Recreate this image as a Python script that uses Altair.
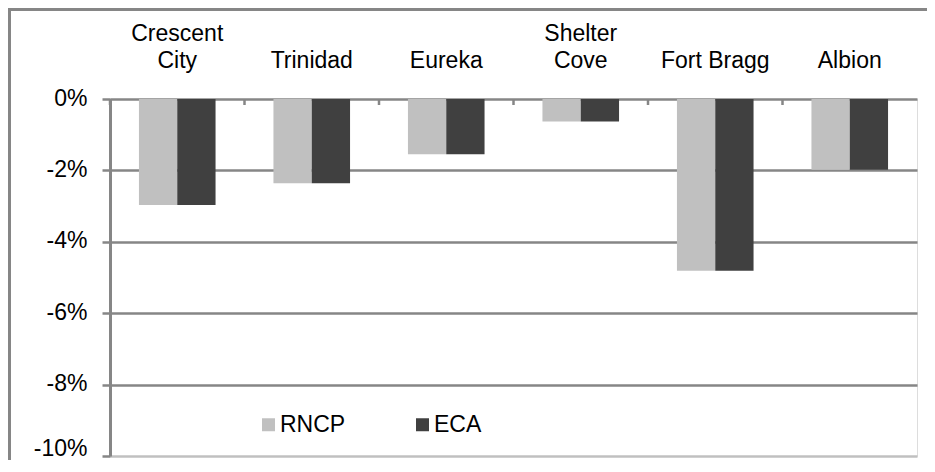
import altair as alt
import pandas as pd

categories = ["Crescent City", "Trinidad", "Eureka", "Shelter Cove", "Fort Bragg", "Albion"]
series = ["RNCP", "ECA"]
rncp = [-2.97, -2.36, -1.55, -0.63, -4.81, -1.98]
eca = [-2.97, -2.36, -1.55, -0.63, -4.81, -1.98]
y_ticks = [0, -2, -4, -6, -8, -10]
colors = ["#C0C0C0", "#404040"]

rows = []
for c, a, b in zip(categories, rncp, eca):
    rows.append({"site": c, "series": "RNCP", "value": a})
    rows.append({"site": c, "series": "ECA", "value": b})
df = pd.DataFrame(rows)

W, H = 807, 357
FONT = "Liberation Sans"
GRID = "#868686"
FS = 23

label_expr = ("datum.label == 'Crescent City' ? ['Crescent', 'City'] : "
              "datum.label == 'Shelter Cove' ? ['Shelter', 'Cove'] : ['', datum.label]")

xenc = alt.X(
    "site:N", sort=categories,
    scale=alt.Scale(paddingInner=0, paddingOuter=0),
    axis=alt.Axis(orient="top", title=None, domain=False, ticks=False, tickSize=0,
                  grid=False, labelAngle=0, labelFontSize=FS, labelFont=FONT,
                  labelColor="black", labelPadding=54, labelLineHeight=27,
                  labelLimit=300, labelExpr=label_expr),
)

bars = alt.Chart(df).mark_bar().encode(
    x=xenc,
    xOffset=alt.XOffset("series:N", sort=series,
                        scale=alt.Scale(paddingInner=0, paddingOuter=0.756)),
    y=alt.Y("value:Q", scale=alt.Scale(domain=[-10, 0], nice=False, zero=True),
            axis=alt.Axis(values=y_ticks, title=None, labelExpr="datum.value + '%'",
                          grid=True,
                          gridColor=alt.condition("datum.value == -10",
                                                  alt.value("#C0C0C0"), alt.value(GRID)),
                          gridWidth=2.5, tickColor=GRID, tickWidth=2.5, tickSize=8,
                          domainColor=GRID, domainWidth=3, labelFontSize=FS,
                          labelFont=FONT, labelColor="black", labelPadding=15,
                          labelOffset=alt.condition("datum.value == -10",
                                                    alt.value(-8), alt.value(-1)))),
    color=alt.Color("series:N", sort=series,
                    scale=alt.Scale(domain=series, range=colors),
                    legend=alt.Legend(orient="none", legendX=147, legendY=314,
                                      direction="horizontal", title=None,
                                      symbolType="square", symbolSize=169,
                                      symbolStrokeWidth=0, labelFontSize=FS,
                                      labelFont=FONT, labelColor="black",
                                      columnPadding=65, labelOffset=0)),
)

tick_df = pd.DataFrame({"site": categories})
ticks = alt.Chart(tick_df).mark_rule(color=GRID, strokeWidth=2.5).encode(
    x=alt.X("site:N", sort=categories, bandPosition=0),
    y=alt.value(0),
    y2=alt.value(6),
)

frame_df = pd.DataFrame({"f": [0]})
frame_top = alt.Chart(frame_df).mark_rule(color=GRID, strokeWidth=3, clip=False).encode(
    x=alt.value(-102), x2=alt.value(2000), y=alt.value(-89.5))
frame_left = alt.Chart(frame_df).mark_rule(color=GRID, strokeWidth=3, clip=False).encode(
    x=alt.value(-100.5), y=alt.value(-91), y2=alt.value(365))

chart = alt.layer(frame_top, frame_left, bars, ticks).properties(
    width=W, height=H,
    padding={"left": 102, "top": 91, "right": 10, "bottom": 4},
    autosize=alt.AutoSizeParams(type="none"),
).configure_view(stroke="#C0C0C0", strokeWidth=3).configure(background="white")

chart.save("out.html", embed_options={"renderer": "svg", "actions": False})
